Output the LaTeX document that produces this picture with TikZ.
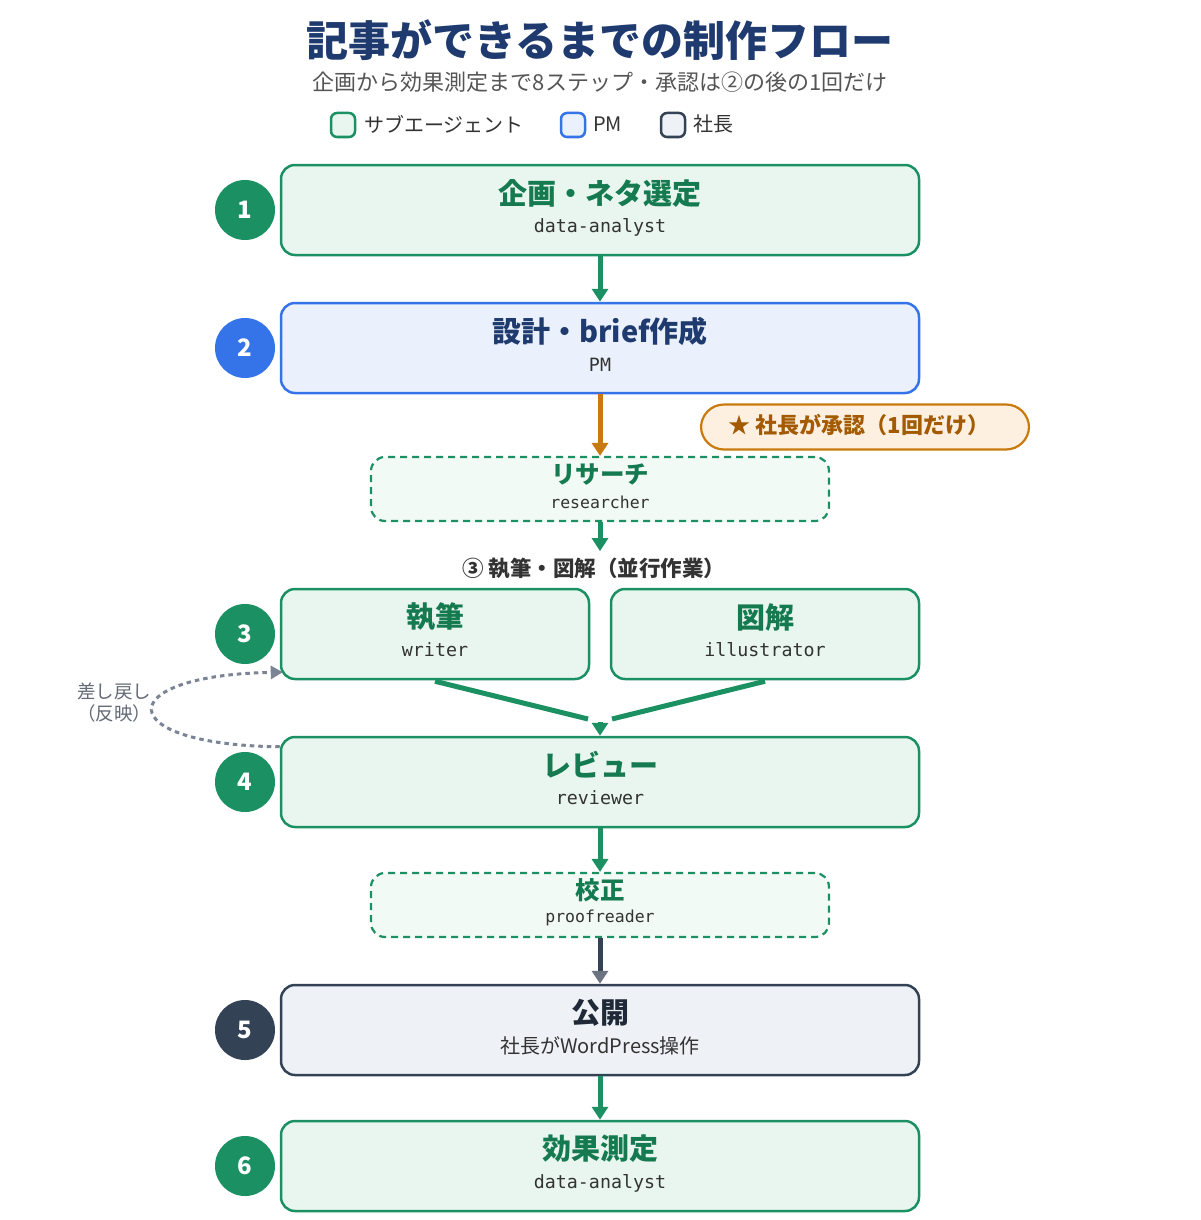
\documentclass[tikz,border=0pt]{standalone}
\usepackage{fontspec}
\setmainfont{Noto Sans CJK JP}
\setmonofont{DejaVu Sans Mono}
\usetikzlibrary{arrows.meta,calc}
\definecolor{gbord}{HTML}{1B9063}
\definecolor{gfill}{HTML}{E8F6EF}
\definecolor{gtext}{HTML}{157A50}
\definecolor{dfill}{HTML}{F1FAF5}
\definecolor{bbord}{HTML}{3574E8}
\definecolor{bfill}{HTML}{EAF1FD}
\definecolor{navy}{HTML}{1E3A6E}
\definecolor{dark}{HTML}{344256}
\definecolor{kfill}{HTML}{EEF2F6}
\definecolor{ktext}{HTML}{1F2937}
\definecolor{obord}{HTML}{C97A0C}
\definecolor{ofill}{HTML}{FDF0E1}
\definecolor{otext}{HTML}{A35A00}
\definecolor{loopc}{HTML}{7B8494}
\definecolor{tipgray}{HTML}{6B7280}
\definecolor{subc}{HTML}{333333}
\definecolor{graytxt}{HTML}{555555}
\tikzset{
  box/.style={rectangle, rounded corners=14pt, line width=2.5pt, minimum width=638pt, minimum height=90pt, inner sep=0pt},
  halfbox/.style={box, minimum width=308pt},
  gbox/.style={box, draw=gbord, fill=gfill},
  ghalf/.style={halfbox, draw=gbord, fill=gfill},
  bbox/.style={box, draw=bbord, fill=bfill},
  kbox/.style={box, draw=dark, fill=kfill},
  dbox/.style={rectangle, rounded corners=14pt, line width=2.2pt, draw=gbord, fill=dfill, dash pattern=on 7pt off 5pt, minimum width=458pt, minimum height=64pt, inner sep=0pt},
  ttl/.style={inner sep=0pt, font=\fontsize{29}{32}\selectfont\bfseries, text=gtext},
  dttl/.style={inner sep=0pt, font=\fontsize{24.5}{27}\selectfont\bfseries, text=gtext},
  sub/.style={inner sep=0pt, font=\fontsize{18.3}{20}\selectfont\ttfamily, text=subc},
  dsub/.style={inner sep=0pt, font=\fontsize{16.5}{18}\selectfont\ttfamily, text=subc},
  num/.style={circle, minimum size=60pt, inner sep=0pt, text=white, font=\fontsize{24}{26}\selectfont\bfseries},
  leg/.style={rectangle, rounded corners=6pt, line width=2.5pt, minimum size=24pt, inner sep=0pt},
  legt/.style={inner sep=0pt, anchor=west, font=\fontsize{20}{22}\selectfont, text=subc},
  tipg/.style={-{Triangle[length=13pt,width=16pt]}},
  garrow/.style={draw=gbord, line width=5pt, tipg},
}
\begin{document}
\begin{tikzpicture}[x=1pt,y=-1pt]
\path[fill=white, use as bounding box] (0,0) rectangle (1200,1220);

% title
\node[inner sep=0pt, font=\fontsize{42}{46}\selectfont\bfseries, text=navy] (title) at (600,40) {記事ができるまでの制作フロー};
\node[inner sep=0pt, font=\fontsize{22}{25}\selectfont, text=graytxt] (subtitle) at (600,82) {企画から効果測定まで8ステップ・承認は②の後の1回だけ};

% legend
\node[leg, draw=gbord, fill=gfill] (lg1) at (343,125) {};
\node[legt] (lg1t) at (364,124) {サブエージェント};
\node[leg, draw=bbord, fill=bfill] (lg2) at (573,125) {};
\node[legt] (lg2t) at (593,124) {PM};
\node[leg, draw=dark, fill=kfill] (lg3) at (673,125) {};
\node[legt] (lg3t) at (693,124) {社長};

% step 1
\node[gbox] (s1) at (600,210) {};
\node[ttl] (s1t) at (600,193) {企画・ネタ選定};
\node[sub] (s1s) at (600,227) {data-analyst};
\node[num, fill=gbord] (c1) at (245,210) {1};

% step 2
\node[bbox] (s2) at (600,348) {};
\node[ttl, text=navy] (s2t) at (600,331) {設計・brief作成};
\node[sub] (s2s) at (600,365) {PM};
\node[num, fill=bbord] (c2) at (245,348) {2};

% approval badge
\node[rectangle, rounded corners=23pt, line width=2.2pt, draw=obord, fill=ofill, minimum width=328pt, minimum height=45pt, inner sep=0pt] (badge) at (865,427) {};
\node[inner sep=0pt, font=\fontsize{22}{24}\selectfont\bfseries, text=otext] (badget) at (859,425) {★ 社長が承認（1回だけ）};

% research
\node[dbox] (rs) at (600,489) {};
\node[dttl] (rst) at (600,474) {リサーチ};
\node[dsub] (rss) at (600,502) {researcher};

% parallel label
\node[inner sep=0pt, font=\fontsize{21.5}{24}\selectfont\bfseries, text=subc] (plab) at (594,568) {③ 執筆・図解（並行作業）};

% step 3
\node[ghalf] (s3a) at (435,634) {};
\node[ttl] (s3at) at (435,617) {執筆};
\node[sub] (s3as) at (435,650) {writer};
\node[ghalf] (s3b) at (765,634) {};
\node[ttl] (s3bt) at (765,617) {図解};
\node[sub] (s3bs) at (765,650) {illustrator};
\node[num, fill=gbord] (c3) at (245,634) {3};

% step 4
\node[gbox] (s4) at (600,782) {};
\node[ttl] (s4t) at (600,765) {レビュー};
\node[sub] (s4s) at (600,798) {reviewer};
\node[num, fill=gbord] (c4) at (245,782) {4};

% proofreader
\node[dbox] (pr) at (600,905) {};
\node[dttl] (prt) at (600,890) {校正};
\node[dsub] (prs) at (600,918) {proofreader};

% step 5
\node[kbox] (s5) at (600,1030) {};
\node[ttl, text=ktext] (s5t) at (600,1013) {公開};
\node[inner sep=0pt, font=\fontsize{20}{22}\selectfont, text=subc] (s5s) at (600,1046) {社長がWordPress操作};
\node[num, fill=dark] (c5) at (245,1030) {5};

% step 6
\node[gbox] (s6) at (600,1166) {};
\node[ttl] (s6t) at (600,1149) {効果測定};
\node[sub] (s6s) at (600,1183) {data-analyst};
\node[num, fill=gbord] (c6) at (245,1166) {6};

% connectors
\draw[garrow] (s1.south) -- (s2.north);
\draw[draw=obord, line width=5pt, -{Triangle[length=13pt,width=16pt]}, obord] (s2.south) -- (rs.north);
\draw[garrow] (rs.south) -- ($(rs.south)+(0,29)$) coordinate (rsend);
\coordinate (merge) at (600,722);
\draw[draw=gbord, line width=5pt] ($(s3a.south)+(0,1)$) -- ($(merge)+(-12,-3)$);
\draw[draw=gbord, line width=5pt] ($(s3b.south)+(0,1)$) -- ($(merge)+(12,-3)$);
\draw[garrow] (merge) -- (s4.north);
\draw[garrow] (s4.south) -- (pr.north);
\draw[draw=dark, line width=5pt, -{Triangle[length=13pt,width=16pt,color=tipgray]}] (pr.south) -- (s5.north);
\draw[garrow] (s5.south) -- (s6.north);

% feedback loop
\coordinate (fbstart) at ($(s4.north west)+(0,11)$);
\coordinate (fbend) at ($(s3a.south west)+(3,-8)$);
\draw[draw=loopc, line width=3pt, dash pattern=on 4.5pt off 4pt, -{Triangle[length=12pt,width=13pt]}] (fbstart) .. controls (110,745) and (110,675) .. (fbend);
\node[inner sep=0pt, align=center, font=\fontsize{18.5}{22}\selectfont, text=loopc!80!black] (fblab) at (114,703) {差し戻し\\（反映）};
\end{tikzpicture}
\end{document}
